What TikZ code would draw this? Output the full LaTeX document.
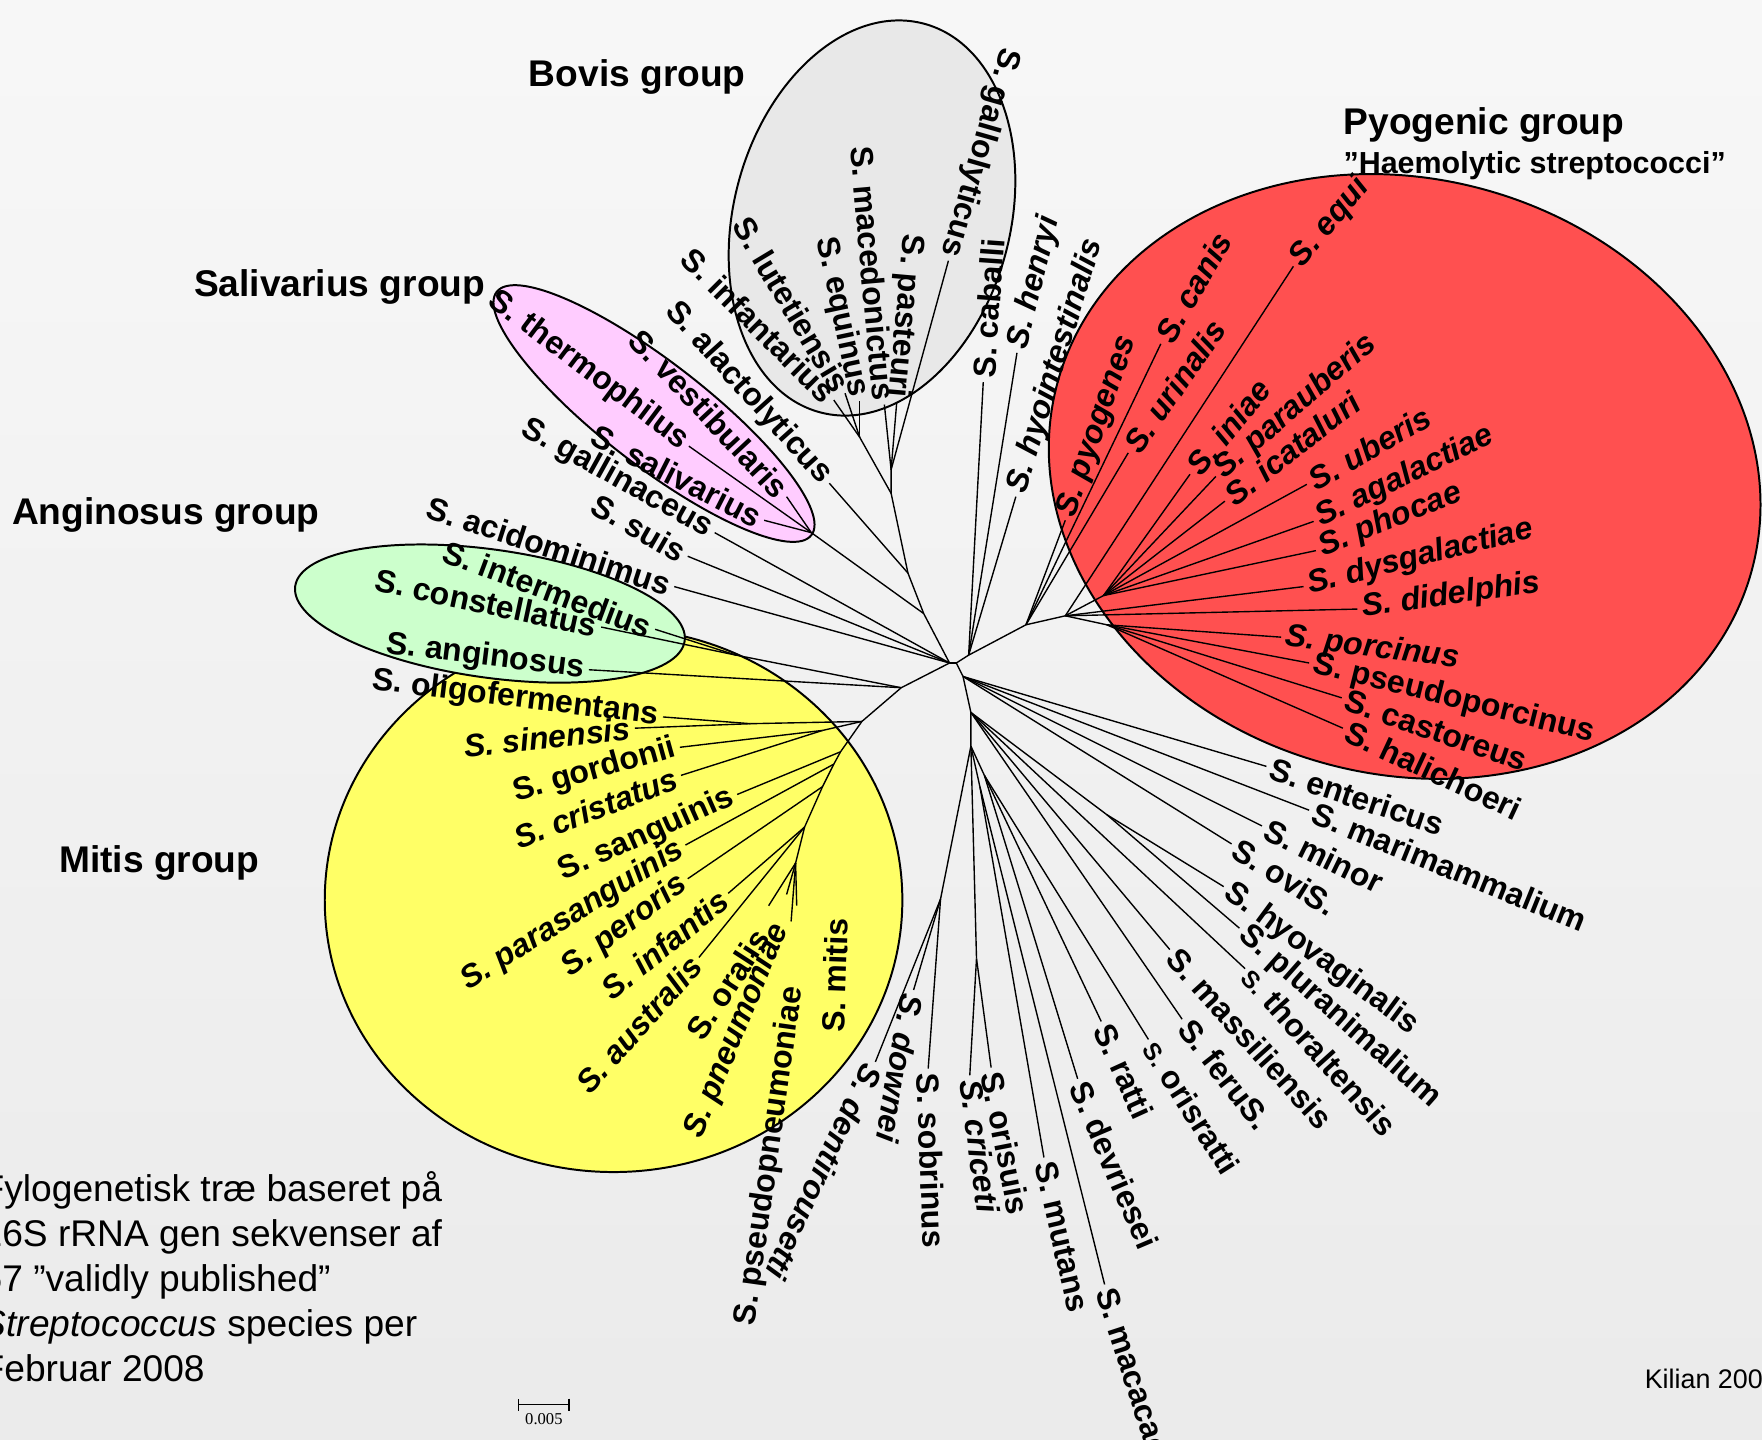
\documentclass[tikz,border=0pt]{standalone}
\usepackage{fontspec}
\setmainfont{Liberation Sans}
\newfontfamily\barfont{Liberation Serif}
\usetikzlibrary{arrows.meta,calc}
\definecolor{pyored}{RGB}{255,80,80}
\definecolor{mitisyellow}{RGB}{255,255,102}
\definecolor{angigreen}{RGB}{204,255,204}
\definecolor{salipink}{RGB}{255,204,255}
\definecolor{bovisgray}{RGB}{232,232,232}
\tikzset{
    every node/.style={color=black}
}

\begin{document}
\begin{tikzpicture}[
        x=0.01cm, y=-0.01cm,
        branch/.style={line width=0.35pt},
        grpshape/.style={draw=black, line width=0.5pt},
        species/.style={font=\fontsize{8.1}{9.7}\selectfont\bfseries, inner sep=1pt},
        spright/.style={species, anchor=west},
        spleft/.style={species, anchor=east},
        grouptitle/.style={font=\fontsize{9.4}{11}\selectfont\bfseries, anchor=base west, inner sep=0pt},
        note/.style={font=\fontsize{9.4}{11}\selectfont, anchor=base west, inner sep=0pt}
    ]

    \useasboundingbox (0,0) rectangle (1568,1281);
    \shade[top color=black!3, bottom color=black!8] (0,0) rectangle (1568,1281);

    % Group ellipses
    \draw[grpshape, fill=bovisgray, rotate around={-15:(776,194)}] (776,194) ellipse [x radius=123, y radius=179];
    \draw[grpshape, fill=salipink, rotate around={-37.7:(582,368)}] (582,368) ellipse [x radius=177, y radius=46];
    \draw[grpshape, fill=mitisyellow] (546,801) ellipse [x radius=257, y radius=242];
    \draw[grpshape, fill=angigreen, rotate around={-8:(436,546)}] (436,546) ellipse [x radius=175, y radius=57];
    \draw[grpshape, fill=pyored, rotate around={-15:(1250,424)}] (1250,424) ellipse [x radius=320, y radius=265];

    % Group titles
    \node[grouptitle] (bovis title) at (470,77) {Bovis group};
    \node[grouptitle] (salivarius title) at (172,264) {Salivarius group};
    \node[grouptitle] (anginosus title) at (10,467) {Anginosus group};
    \node[grouptitle] (mitis title) at (52,776) {Mitis group};
    \node[grouptitle] (pyogenic title) at (1195,120) {Pyogenic group};
    \node[grouptitle, font=\fontsize{7.7}{9}\selectfont\bfseries] (haemolytic) at (1195,154) {”Haemolytic streptococci”};

    % Inner nodes
    \coordinate (hA) at (845,590);
    \coordinate (hB) at (851,590);
    \coordinate (b1) at (822,546);
    \coordinate (b2) at (808,510);
    \coordinate (b3) at (793,439);
    \coordinate (b4) at (793,418);
    \coordinate (b5) at (765,389);
    \coordinate (sal) at (722,474);
    \coordinate (L1) at (802,612);
    \coordinate (L2) at (767,642);
    \coordinate (angc) at (655,583);
    \coordinate (olsi) at (668,644);
    \coordinate (gocr) at (732,650);
    \coordinate (m1) at (748,669);
    \coordinate (m2) at (742,680);
    \coordinate (m3) at (732,700);
    \coordinate (m4) at (716,736);
    \coordinate (m5) at (708,768);
    \coordinate (u1) at (862,583);
    \coordinate (pyoA) at (913,556);
    \coordinate (pyoB) at (948,548);
    \coordinate (pyoC) at (982,530);
    \coordinate (pyoD) at (985,556);
    \coordinate (d1) at (857,602);
    \coordinate (d2) at (864,634);
    \coordinate (d3) at (864,664);
    \coordinate (hyo) at (985,725);
    \coordinate (rd) at (876,690);
    \coordinate (mm) at (872,700);
    \coordinate (cr) at (869,853);
    \coordinate (dn) at (837,800);

    % Tree backbone
    \draw[branch] (hA) -- (hB);
    \draw[branch] (hA) -- (b1) -- (b2) -- (b3) -- (b4);
    \draw[branch] (b3) -- (b5);
    \draw[branch] (b1) -- (sal);
    \draw[branch] (hA) -- (L1) -- (L2) -- (m1) -- (m2) -- (m3) -- (m4) -- (m5);
    \draw[branch] (L1) -- (angc);
    \draw[branch] (L2) -- (olsi);
    \draw[branch] (L2) -- (gocr);
    \draw[branch] (hB) -- (u1) -- (pyoA) -- (pyoB);
    \draw[branch] (pyoB) -- (pyoC);
    \draw[branch] (pyoB) -- (pyoD);
    \draw[branch] (hB) -- (d1) -- (d2) -- (d3);
    \draw[branch] (d2) -- (hyo);
    \draw[branch] (d3) -- (rd);
    \draw[branch] (d3) -- (mm);
    \draw[branch] (d3) -- (cr);
    \draw[branch] (d3) -- (dn);

    % Pyogenic group
    \foreach \nm/\x/\y/\rot/\sh/\lab in {pyogenes/948/463/71/\itshape/S. pyogenes,
            urinalis/1004/403/55/\itshape/S. urinalis, canis/1033/306/60/\itshape/S. canis}
        {\node[spright, rotate=\rot] (\nm) at (\x,\y) {\sh\lab};
         \draw[branch] (pyoA) -- (\nm.west);}
    \foreach \nm/\x/\y/\rot/\sh/\lab in {equi/1151/237/50/\itshape/S. equi,
            dysgalactiae/1160/522/14/\itshape/S. dysgalactiae, didelphis/1208/542/8/\itshape/S. didelphis}
        {\node[spright, rotate=\rot] (\nm) at (\x,\y) {\sh\lab};
         \draw[branch] (pyoB) -- (\nm.west);}
    \foreach \nm/\x/\y/\rot/\sh/\lab in {iniae/1059/422/51/\itshape/S. iniae,
            parauberis/1082/424/41/\itshape/S. parauberis, icataluri/1090/446/38/\itshape/S. icataluri,
            uberis/1163/431/30/\itshape/S. uberis, agalactiae/1169/464/26/\itshape/S. agalactiae,
            phocae/1171/490/22/\itshape/S. phocae}
        {\node[spright, rotate=\rot] (\nm) at (\x,\y) {\sh\lab};
         \draw[branch] (pyoC) -- (\nm.west);}
    \foreach \nm/\x/\y/\rot/\sh/\lab in {porcinus/1140/567/-7/\itshape/S. porcinus,
            pseudoporcinus/1165/590/-14/\upshape/S. pseudoporcinus, castoreus/1194/621/-19/\upshape/S. castoreus,
            halichoeri/1195/648/-25/\upshape/S. halichoeri}
        {\node[spright, rotate=\rot] (\nm) at (\x,\y) {\sh\lab};
         \draw[branch] (pyoD) -- (\nm.west);}

    % Right and bottom species
    \foreach \nm/\x/\y/\rot/\lab in {entericus/1127/682/-18.5/S. entericus,
            marimammalium/1165/721/-22/S. marimammalium, minor/1123/735/-26/S. minor,
            ovis/1096/751/-32/S. oviS.}
        {\node[spright, rotate=\rot] (\nm) at (\x,\y) {\lab};
         \draw[branch] (d1) -- (\nm.west);}
    \foreach \nm/\x/\y/\rot/\lab in {hyovaginalis/1089/789/-36.5/S. hyovaginalis,
            pluranimalium/1103/826/-41.5/S. pluranimalium}
        {\node[spright, rotate=\rot] (\nm) at (\x,\y) {\lab};
         \draw[branch] (hyo) -- (\nm.west);}
    \foreach \nm/\x/\y/\rot/\lab in {thoraltensis/1108/862/-48/{\fontsize{6.2}{7}\selectfont S.} thoraltensis,
            massiliensis/1041/845/-48/S. massiliensis, ferus/1052/907/-52/S. feruS.}
        {\node[spright, rotate=\rot] (\nm) at (\x,\y) {\lab};
         \draw[branch] (d2) -- (\nm.west);}
    \foreach \nm/\x/\y/\rot/\lab in {orisratti/1022/925/-57.5/{\fontsize{6.2}{7}\selectfont S.} orisratti,
            ratti/980/909/-65.5/S. ratti, devriesei/959/960/-67/S. devriesei}
        {\node[spright, rotate=\rot] (\nm) at (\x,\y) {\lab};
         \draw[branch] (rd) -- (\nm.west);}
    \foreach \nm/\x/\y/\rot/\lab in {mutans/929/1030/-77/S. mutans, macacae/983/1143/-72/S. macacae}
        {\node[spright, rotate=\rot] (\nm) at (\x,\y) {\lab};
         \draw[branch] (mm) -- (\nm.west);}
    \foreach \nm/\x/\y/\rot/\sh/\lab in {orisuis/882/950/-79/\upshape/S. orisuis,
            criceti/863/957/-82/\itshape/S. criceti}
        {\node[spright, rotate=\rot] (\nm) at (\x,\y) {\sh\lab};
         \draw[branch] (cr) -- (\nm.west);}
    \foreach \nm/\x/\y/\rot/\sh/\lab in {sobrinus/826/951/-88/\upshape/S. sobrinus,
            downei/813/881/-100/\itshape/S. downei, dentirousetti/779/945/-115/\itshape/S. dentirousetti}
        {\node[spright, rotate=\rot] (\nm) at (\x,\y) {\sh\lab};
         \draw[branch] (dn) -- (\nm.west);}

    % Species above the hub
    \foreach \nm/\x/\y/\rot/\sh/\lab in {caballi/875/340/86/\upshape/S. caballi,
            henryi/905/314/76/\itshape/S. henryi, hyointestinalis/904/442/73/\itshape/S. hyointestinalis}
        {\node[spright, rotate=\rot] (\nm) at (\x,\y) {\sh\lab};
         \draw[branch] (u1) -- (\nm.west);}

    % Bovis group
    \foreach \nm/\x/\y/\rot/\lab in {infantarius/742/356/-45/S. infantarius,
            lutetiensis/752/350/-59/S. lutetiensis, equinus/765/357/-78/S. equinus}
        {\node[spleft, rotate=\rot] (\nm) at (\x,\y) {\lab};
         \draw[branch] (b5) -- (\nm.east);}
    \foreach \nm/\x/\y/\rot/\lab in {macedonicus/787/360/-85/S. macedonictus,
            pasteuri/798/358/-95/S. pasteuri, gallolyticus/844/232/-106/S. gallolyticus}
        {\node[spleft, rotate=\rot] (\nm) at (\x,\y) {\lab};
         \draw[branch] (b4) -- (\nm.east);}
    \node[spleft, rotate=-48] (alactolyticus) at (738,430) {S. alactolyticus};
    \draw[branch] (b2) -- (alactolyticus.east);

    % Salivarius group and loose species
    \foreach \nm/\x/\y/\rot/\lab in {thermophilus/613/397/-37/S. thermophilus,
            salivarius/680/463/-27/S. salivarius, vestibularis/700/442/-47/S. vestibularis}
        {\node[spleft, rotate=\rot] (\nm) at (\x,\y) {\lab};
         \draw[branch] (sal) -- (\nm.east);}
    \foreach \nm/\x/\y/\rot/\lab in {gallinaceus/636/474/-29/S. gallinaceus,
            suis/612/495/-30/S. suis, acidominimus/600/522/-18/S. acidominimus}
        {\node[spleft, rotate=\rot] (\nm) at (\x,\y) {\lab};
         \draw[branch] (hA) -- (\nm.east);}

    % Anginosus group
    \foreach \nm/\x/\y/\rot/\lab in {intermedius/583/560/-20.5/S. intermedius,
            constellatus/535/558/-12/S. constellatus}
        {\node[spleft, rotate=\rot] (\nm) at (\x,\y) {\lab};
         \draw[branch] (angc) -- (\nm.east);}
    \node[spleft, rotate=-7] (anginosus) at (524,596) {S. anginosus};
    \draw[branch] (L1) -- (anginosus.east);

    % Mitis group
    \foreach \nm/\x/\y/\rot/\sh/\lab in {oligofermentans/590/638/-7/\upshape/S. oligofermentans,
            sinensis/565/648/6/\itshape/S. sinensis}
        {\node[spleft, rotate=\rot] (\nm) at (\x,\y) {\sh\lab};
         \draw[branch] (olsi) -- (\nm.east);}
    \foreach \nm/\x/\y/\rot/\sh/\lab in {gordonii/605/665/15.5/\upshape/S. gordonii,
            cristatus/606/690/21/\itshape/S. cristatus}
        {\node[spleft, rotate=\rot] (\nm) at (\x,\y) {\sh\lab};
         \draw[branch] (gocr) -- (\nm.east);}
    \node[spleft, rotate=24] (sanguinis) at (656,707) {S. sanguinis};
    \draw[branch] (m1) -- (sanguinis.east);
    \node[spleft, rotate=32] (parasanguinis) at (610,752) {\itshape S. parasanguinis};
    \draw[branch] (m2) -- (parasanguinis.east);
    \node[spleft, rotate=37] (peroris) at (612,782) {\itshape S. peroris};
    \draw[branch] (m3) -- (peroris.east);
    \foreach \nm/\x/\y/\rot/\lab in {infantis/648/795/39/S. infantis, australis/622/852/48/S. australis}
        {\node[spleft, rotate=\rot] (\nm) at (\x,\y) {\itshape\lab};
         \draw[branch] (m4) -- (\nm.east);}
    \foreach \nm/\tx/\ty/\x/\y/\rot/\sh/\lab in {oralis/684/806/680/826/57/\upshape/S. oralis,
            pneumoniae/700/796/696/820/67.6/\itshape/S. pneumoniae,
            pseudopneumoniae/704/820/707/874/82/\upshape/S. pseudopneumoniae,
            mitis/709/806/745/813/88/\upshape/S. mitis}
        {\coordinate (\nm tip) at (\tx,\ty);
         \node[spleft, rotate=\rot] (\nm) at (\x,\y) {\sh\lab};
         \draw[branch] (m5) -- (\nm tip);}

    % Caption, credit and scale bar
    \foreach \i/\y/\lab in {1/1069/Fylogenetisk træ baseret på, 2/1109/16S rRNA gen sekvenser af,
            3/1149/67 ”validly published”, 4/1189/{\itshape Streptococcus} species per, 5/1229/Februar 2008}
        \node[note] (caption\i) at (-17,\y) {\lab};
    \node[anchor=base west, inner sep=0pt, font=\fontsize{6.8}{8}\selectfont] (credit) at (1463,1236) {Kilian 2008};
    \coordinate (bar left) at (461,1250);
    \coordinate (bar right) at (507,1250);
    \draw[line width=0.35pt, {Bar[width=3pt]}-{Bar[width=3pt]}] (bar left) -- (bar right);
    \node[below=1pt, inner sep=1pt, font=\barfont\fontsize{4.2}{5}\selectfont] (bar label) at ($(bar left)!0.5!(bar right)$) {0.005};

\end{tikzpicture}
\end{document}
